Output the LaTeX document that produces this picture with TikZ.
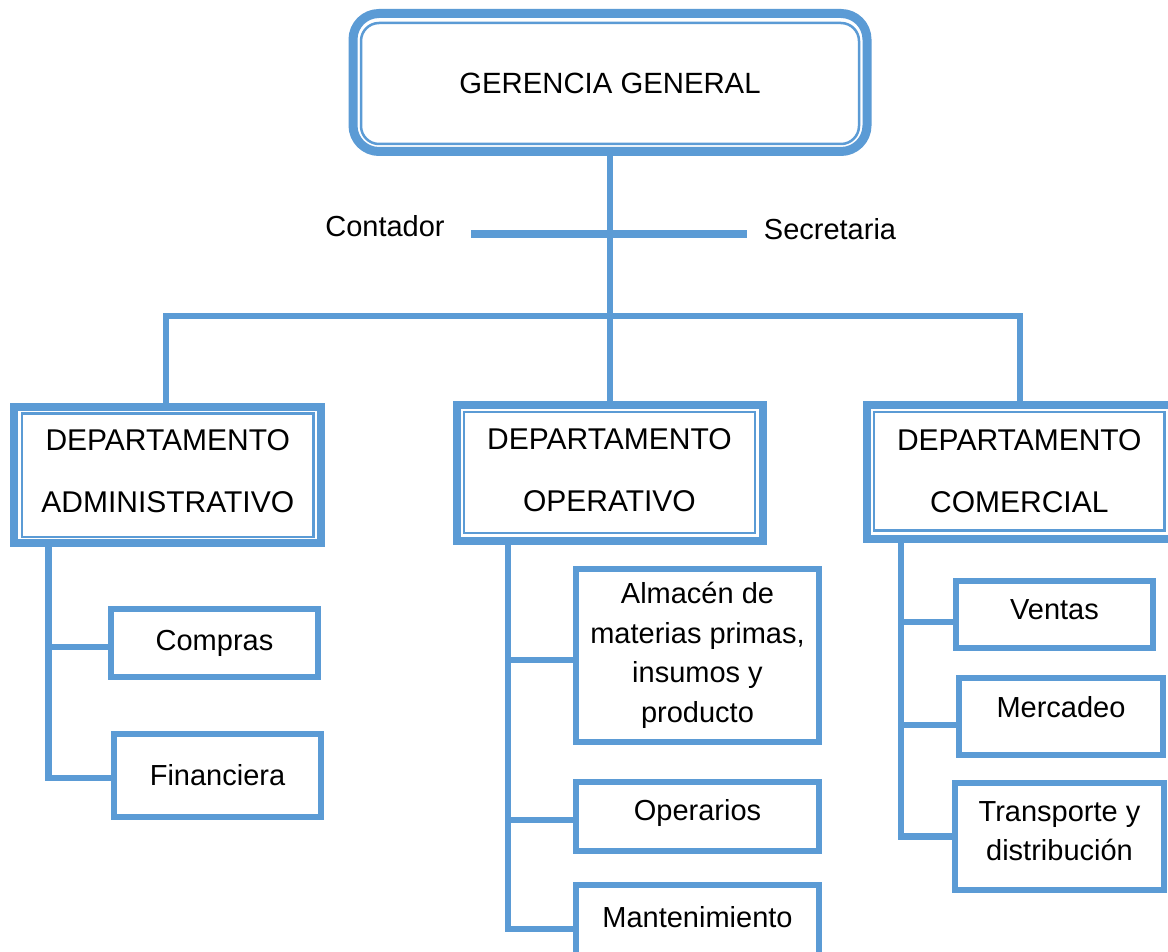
\documentclass[tikz,border=0pt]{standalone}
\usepackage{fontspec}
\setmainfont{Liberation Sans}
\definecolor{ob}{HTML}{5B9BD5}
\begin{document}
\begin{tikzpicture}[x=1pt,y=-1pt,
  conn/.style={draw=ob, line width=6.5, line join=miter},
  bar/.style={draw=ob, line width=8},
  lbl/.style={inner sep=0, font=\fontsize{29}{36}\selectfont},
  topout/.style={draw=ob, line width=9, rounded corners=26, inner sep=0},
  topin/.style={draw=ob, line width=2.5, rounded corners=18, inner sep=0, font=\fontsize{29.3}{36}\selectfont},
  deptout/.style={draw=ob, line width=8, inner sep=0},
  deptin/.style={draw=ob, line width=2.5, inner sep=0, align=center, font=\fontsize{30}{62}\selectfont},
  subbox/.style={draw=ob, line width=6, inner sep=0, align=center, font=\fontsize{29}{39.5}\selectfont}
]
\useasboundingbox (0,0) rectangle (1168,952);
\clip (0,0) rectangle (1168,952);
\fill[white] (0,0) rectangle (1168,952);

% top box
\node[topout, minimum width=514, minimum height=138] (gg) at (610,82.5) {};
\node[topin, minimum width=498, minimum height=121] (ggi) at (610,83.5) {GERENCIA GENERAL};

% staff
\node[lbl] (cont) at (385,226) {Contador};
\node[lbl] (secr) at (830,229) {Secretaria};
\coordinate (cl) at (471,234);
\coordinate (cr) at (747,234);

% departments
\node[deptout, minimum width=307, minimum height=136] (admo) at (167.5,475) {};
\node[deptin, minimum width=291.5, minimum height=123.5, text depth=8] (admi) at (167.75,475.25) {DEPARTAMENTO\\ADMINISTRATIVO};

\node[deptout, minimum width=306, minimum height=136] (opo) at (610,473) {};
\node[deptin, minimum width=290.7, minimum height=121, text depth=4] (opi) at (609.4,472.5) {DEPARTAMENTO\\OPERATIVO};

\node[deptout, minimum width=305.3, minimum height=134.2] (como) at (1019.3,471.6) {};
\node[deptin, minimum width=290.7, minimum height=118.7] (comi) at (1019.3,471.3) {DEPARTAMENTO\\COMERCIAL};

% sub boxes
\node[subbox, minimum width=207, minimum height=68] (comp) at (214.5,643) {Compras};
\node[subbox, minimum width=207, minimum height=83] (fin) at (217.5,775.5) {Financiera};

\node[subbox, minimum width=243, minimum height=173] (alm) at (697.5,655.5) {Almacén de\\materias primas,\\insumos y\\producto};
\node[subbox, minimum width=243, minimum height=69, text depth=13] (oper) at (697.5,816.5) {Operarios};
\node[subbox, minimum width=243, minimum height=70, text depth=6] (mant) at (697.5,920) {Mantenimiento};

\node[subbox, minimum width=197, minimum height=67, text depth=9] (vent) at (1054.5,614.5) {Ventas};
\node[subbox, minimum width=204, minimum height=77, text depth=19] (merc) at (1061,716.5) {Mercadeo};
\node[subbox, minimum width=209, minimum height=107, text depth=11] (trans) at (1059.5,836.5) {Transporte y\\distribución};

% connectors top
\draw[conn] (gg) -- (opo);
\draw[bar] (cl) -- (cr);
\coordinate (hl) at (166,316);
\coordinate (hr) at (1020,316);
\draw[conn] (hl |- admo.north) -- (hl) -- (hr) -- (hr |- como.north);

% admin branches
\coordinate (av) at (48.5,545);
\draw[conn] (av) |- ([yshift=-4]comp.west);
\draw[conn] (av) |- ([yshift=-2.5]fin.west);

% operativo branches
\coordinate (ov) at (508,543);
\draw[conn] (ov) |- ([yshift=-4.5]alm.west);
\draw[conn] (ov) |- ([yshift=-3.5]oper.west);
\draw[conn] (ov) |- ([yshift=-9]mant.west);

% comercial branches
\coordinate (cv) at (901,542);
\draw[conn] (cv) |- ([yshift=-7.5]vent.west);
\draw[conn] (cv) |- ([yshift=-8.5]merc.west);
\draw[conn] (cv) |- (trans.west);
\end{tikzpicture}
\end{document}
